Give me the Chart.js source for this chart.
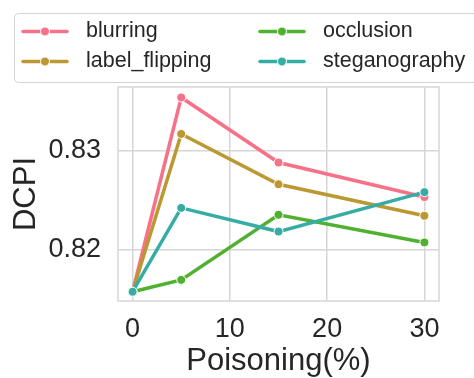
<!DOCTYPE html>
<html>
<head>
<meta charset="utf-8">
<script src="https://cdn.jsdelivr.net/npm/chart.js@4"></script>
<style>
html,body{margin:0;padding:0;background:#fff;}
#wrap{width:474px;height:378px;position:relative;}
</style>
</head>
<body>
<div id="wrap"><canvas id="c" width="474" height="378"></canvas></div>
<script>
const categories = [0, 5, 15, 30];
const seriesNames = ["blurring", "label_flipping", "occlusion", "steganography"];
const blurring = [0.8157, 0.8354, 0.8288, 0.8253];
const labelFlipping = [0.8157, 0.8317, 0.8266, 0.8234];
const occlusion = [0.8157, 0.8169, 0.8235, 0.8207];
const steganography = [0.8157, 0.8242, 0.8218, 0.8258];
const xTicks = [0, 10, 20, 30];
const yTicks = [0.82, 0.83];
const colors = ["#f77189", "#bb9832", "#50b131", "#36ada4"];

const FONT = "'Liberation Sans', Arial, sans-serif";
const TEXT = "#262626";
const GRID = "#d6d6d6";

const seriesValues = [blurring, labelFlipping, occlusion, steganography];
const datasets = seriesNames.map((name, i) => ({
  label: name,
  data: categories.map((x, j) => ({x: x, y: seriesValues[i][j]})),
  borderColor: colors[i],
  backgroundColor: colors[i],
  borderWidth: 3.5,
  pointRadius: 4.5,
  pointBorderWidth: 1,
  pointBorderColor: "#ffffff",
  pointBackgroundColor: colors[i],
  tension: 0,
  order: seriesNames.length - i
}));

const frameAndLegend = {
  id: "frameAndLegend",
  afterDraw(chart) {
    const ctx = chart.ctx;
    const a = chart.chartArea;
    ctx.save();
    ctx.strokeStyle = GRID;
    ctx.lineWidth = 1.5;
    ctx.strokeRect(a.left, a.top, a.right - a.left, a.bottom - a.top);
    // legend box
    ctx.beginPath();
    if (ctx.roundRect) ctx.roundRect(14.5, 13.5, 480, 69, 4); else ctx.rect(14.5, 13.5, 480, 69);
    ctx.fillStyle = "#ffffff";
    ctx.fill();
    ctx.strokeStyle = "#d4d4d4";
    ctx.lineWidth = 1;
    ctx.stroke();
    const colX = [21, 258];
    const rowY = [31.5, 61.5];
    chart.data.datasets.forEach((ds, i) => {
      const x = colX[Math.floor(i / 2)];
      const y = rowY[i % 2];
      ctx.strokeStyle = ds.borderColor;
      ctx.lineWidth = 3.5;
      ctx.lineCap = "round";
      ctx.beginPath();
      ctx.moveTo(x + 2, y);
      ctx.lineTo(x + 46, y);
      ctx.stroke();
      ctx.beginPath();
      ctx.arc(x + 24, y, 4.5, 0, Math.PI * 2);
      ctx.fillStyle = ds.borderColor;
      ctx.fill();
      ctx.strokeStyle = "#ffffff";
      ctx.lineWidth = 1;
      ctx.stroke();
      ctx.fillStyle = TEXT;
      ctx.font = "21.5px " + FONT;
      ctx.textBaseline = "middle";
      ctx.textAlign = "left";
      ctx.fillText(ds.label, x + 65, y);
    });
    ctx.restore();
  }
};

new Chart(document.getElementById("c"), {
  type: "line",
  data: { datasets: datasets },
  options: {
    responsive: false,
    animation: false,
    devicePixelRatio: 1,
    events: [],
    layout: { padding: { top: 87, right: 35, left: 0, bottom: 0 } },
    plugins: { legend: { display: false }, tooltip: { enabled: false } },
    scales: {
      x: {
        type: "linear",
        min: -1.5,
        max: 31.5,
        afterBuildTicks: s => { s.ticks = xTicks.map(v => ({value: v})); },
        afterFit: s => { s.height = 77; },
        grid: { color: GRID, lineWidth: 1.5, drawTicks: false },
        border: { display: false },
        ticks: { color: TEXT, font: { family: FONT, size: 27 }, padding: 12, maxRotation: 0 },
        title: { display: true, text: "Poisoning(%)", color: TEXT, font: { family: FONT, size: 31, lineHeight: 1.0 }, padding: { top: 0, bottom: 1 } }
      },
      y: {
        type: "linear",
        min: 0.81476,
        max: 0.83646,
        afterBuildTicks: s => { s.ticks = yTicks.map(v => ({value: v})); },
        afterFit: s => { s.width = 118; },
        grid: { color: GRID, lineWidth: 1.5, drawTicks: false },
        border: { display: false },
        ticks: { color: TEXT, font: { family: FONT, size: 27 }, padding: 17, callback: v => v.toFixed(2) },
        title: { display: true, text: "DCPI", color: TEXT, font: { family: FONT, size: 31 }, padding: { top: 8, bottom: 0 } }
      }
    }
  },
  plugins: [frameAndLegend]
});
</script>
</body>
</html>
